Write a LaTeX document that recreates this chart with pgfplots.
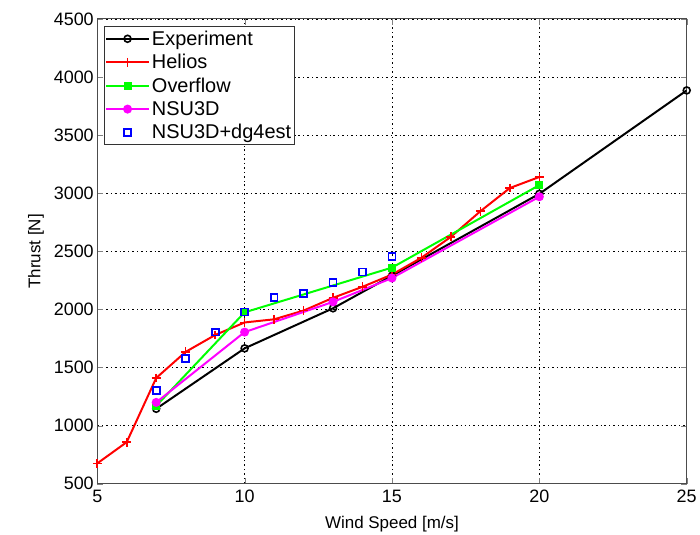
\documentclass[border=0pt]{standalone}
\usepackage{pgfplots}
\pgfplotsset{compat=1.18}
\usepackage{fontspec}
\setmainfont{Liberation Sans}
\usetikzlibrary{calc}
\definecolor{mred}{RGB}{255,0,0}
\definecolor{mgreen}{RGB}{0,255,0}
\definecolor{mmag}{RGB}{255,0,255}
\definecolor{mblue}{RGB}{0,0,255}
\begin{document}
\begin{tikzpicture}
\begin{axis}[
  scale only axis,
  width=591bp, height=466bp,
  xmin=5, xmax=25, ymin=500, ymax=4500,
  xtick={5,10,15,20,25},
  ytick={500,1000,...,4500},
  /pgf/number format/assume math mode=true,
  /pgf/number format/1000 sep={},
  ticklabel style={font=\fontsize{18bp}{20bp}\selectfont},
  xticklabel style={yshift=-3bp},
  label style={font=\fontsize{17bp}{19bp}\selectfont},
  xlabel={Wind Speed [m/s]},
  ylabel={Thrust [N]},
  xlabel style={yshift=-6bp},
  ylabel style={yshift=3bp},
  tick align=inside,
  major tick length=6bp,
  xtick pos=both, ytick pos=both,
  axis line style={black!70, line width=1pt},
  grid=major,
  major grid style={black, line width=0.8pt, dash pattern=on 2pt off 3pt on 0.8pt off 3pt},
  legend style={at={(rel axis cs:0,1)}, xshift=6.5bp, yshift=-7bp, anchor=north west, draw=black!80, line width=0.8pt,
    font=\fontsize{20bp}{23bp}\selectfont, row sep=4.6bp, inner xsep=1bp, inner ysep=3bp,
    nodes={inner ysep=1.5bp}},
  legend cell align=left,
  legend image code/.code={\draw[mark repeat=2,mark phase=2] plot coordinates {(0bp,0bp)(21.5bp,0bp)(43bp,0bp)};},
]
\addplot[black, line width=2pt, mark=o, mark size=3.5pt, mark options={line width=1.6pt}] coordinates {
 (7,1145) (10,1665) (13,2010) (15,2290) (20,2995) (25,3885)};
\addlegendentry{Experiment}
\addplot[mred, line width=2pt, mark=+, mark size=4.5pt, mark options={line width=1.6pt}] coordinates {
 (5,675) (6,858) (7,1410) (8,1635) (9,1780) (10,1888) (11,1915) (12,1990) (13,2100) (14,2195)
 (15,2300) (16,2445) (17,2625) (18,2845) (19,3045) (20,3140)};
\addlegendentry{Helios}
\addplot[mgreen, line width=2pt, mark=square*, mark size=3pt] coordinates {
 (7,1170) (10,1975) (15,2360) (20,3070)};
\addlegendentry{Overflow}
\addplot[mmag, line width=2pt, mark=*, mark size=3.5pt] coordinates {
 (7,1200) (10,1805) (13,2065) (15,2270) (20,2970)};
\addlegendentry{NSU3D}
\addplot[mblue, only marks, mark=square, mark size=3.5pt, mark options={line width=1.8pt}] coordinates {
 (7,1302) (8,1580) (9,1805) (10,1978) (11,2100) (12,2137) (13,2232) (14,2322) (15,2455)};
\addlegendentry{NSU3D+dg4est}
\end{axis}
\path[use as bounding box] ($(current axis.south west)+(-97.5bp,-47.6bp)$) rectangle ($(current axis.north east)+(11.7bp,19bp)$);
\end{tikzpicture}
\end{document}
